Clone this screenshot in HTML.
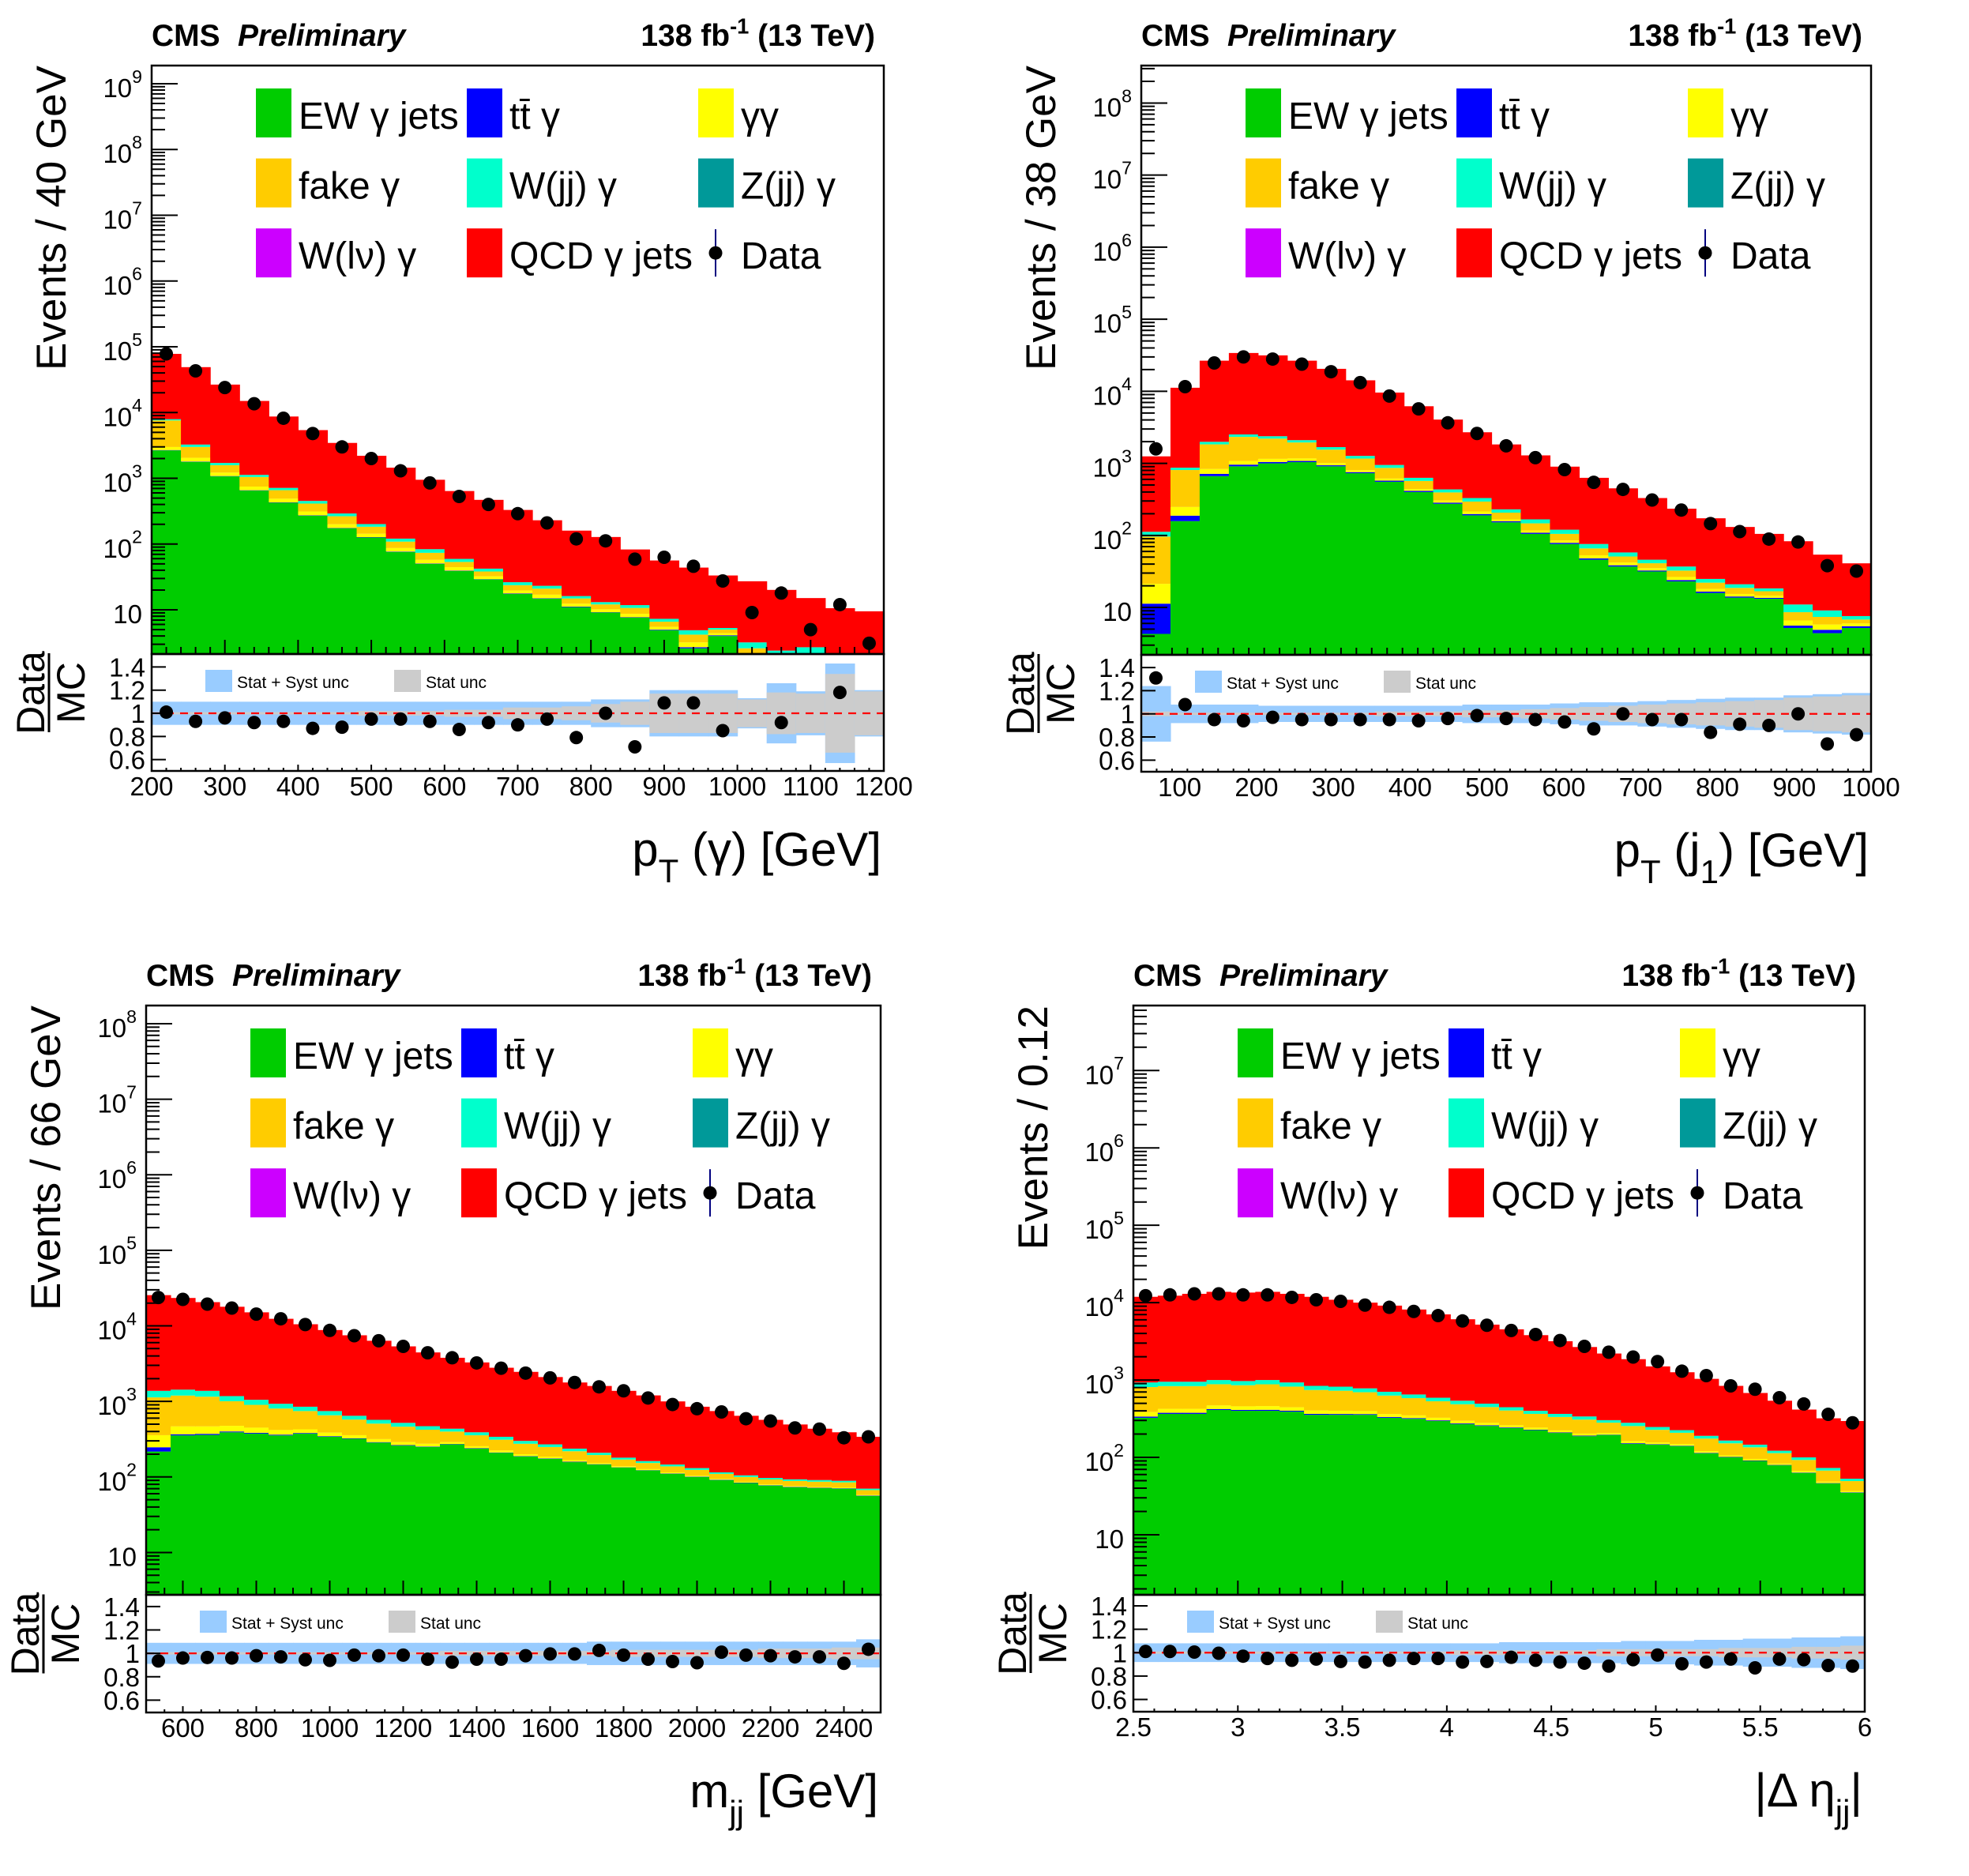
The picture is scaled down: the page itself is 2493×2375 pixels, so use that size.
<!DOCTYPE html>
<html><head><meta charset="utf-8">
<style>html,body{margin:0;padding:0;background:#fff}svg{display:block;font-family:"Liberation Sans",sans-serif}</style>
</head><body>
<svg id="chart" xmlns="http://www.w3.org/2000/svg" width="2493" height="2375" viewBox="0 0 2493 2375"></svg>
<script>
// ---------- pT(gamma) panel ----------
const ptgRange=[200,1200];
const ptgEW=[2660,1780,1070,650,425,270,173,126,76,50,39,29,17.4,14.8,11,9.1,7.6,4.9,2.6,4.0,1.5,0.5,1.0,0.5,0.5];
const ptgTT=[30,20,12,8,5,3,2,1.5,1,0.6,0.5,0.3,0.3,0.2,0.2,0.1,0.1,0.1,0.1,0.1,0.1,0.1,0.1,0.1,0.1];
const ptgYY=[300,250,140,90,60,40,25,16,10,7,5,3,2,2,1.2,1,1,0.5,0.5,0.3,0.4,0.3,0.2,0.2,0.2];
const ptgFake=[4600,950,360,300,170,100,65,40,22,16,9,6,4,4,2.5,1.9,2,1.1,1,0.6,0.6,0.5,0.4,0.4,0.4];
const ptgWjj=[340,260,130,80,55,40,27,18,12,10,6,4,2.6,2.2,1.3,1,1.1,0.7,0.7,0.3,0.6,1.0,1.0,0.4,0.4];
const ptgQCD=[70100,45760,24900,13880,7990,4950,3160,2000,1330,867,581,428,304,207,144,115,71,49,39,28,24,17.7,12.4,9,7.9];
const ptgData=[78000,43000,24000,13600,8200,4800,3000,2000,1300,850,530,400,290,210,120,112,59,63,46,27.5,9.1,18,5.0,12,3.1];
const ptgRatio=[1.01,0.93,0.96,0.92,0.93,0.87,0.88,0.95,0.95,0.93,0.86,0.92,0.90,0.95,0.79,1.0,0.71,1.09,1.09,0.85,null,0.92,null,1.18,null];
const ptgSyst=[0.1,0.1,0.1,0.1,0.1,0.1,0.1,0.1,0.1,0.1,0.1,0.1,0.1,0.1,0.1,0.12,0.12,0.2,0.2,0.2,0.13,0.26,0.19,0.43,0.2];
const ptgStat=[0.01,0.01,0.01,0.01,0.01,0.01,0.01,0.02,0.02,0.02,0.03,0.03,0.05,0.05,0.06,0.08,0.1,0.17,0.17,0.17,0.12,0.18,0.17,0.34,0.19];
// ---------- pT(j1) panel ----------
const pjRange=[50,1000];
const pjEW=[4.3,158,665,910,1000,1040,910,730,555,400,275,190,152,105,76,46,37,31.6,23,15.9,13.7,13.2,5.2,4.4,5.2];
const pjTT=[7,30,50,50,45,40,30,25,20,15,10,8,5,4,3,2,1.5,1,1,0.7,0.5,0.4,0.4,0.5,0.3];
const pjYY=[10,60,120,120,110,90,70,50,40,25,20,17,10,8,6,5,3.5,2.5,2.5,1.5,1.2,1,1,0.9,0.5];
const pjFake=[75,560,1000,1250,1050,780,540,360,250,130,90,80,40,30,20,13,9,6,6,4,3.3,2.2,2,1.6,0.8];
const pjWjj=[16,62,155,190,175,150,130,105,85,60,40,35,23,20,15,10,7,4.9,4.5,2.8,2.3,1.6,2.4,1.7,0.8];
const pjQCD=[1138,10330,24610,31480,29120,24500,18820,12930,8650,5570,3615,2370,1600,1123,780,554,392,284,198,148,110,86.6,72,45,33.4];
const pjData=[1590,11600,24700,30000,28000,23800,18700,13200,8600,5700,3650,2600,1750,1200,820,545,435,310,225,146,113,89,81,38,32];
const pjRatio=[1.31,1.08,0.95,0.94,0.97,0.95,0.95,0.95,0.95,0.94,0.96,0.985,0.96,0.95,0.93,0.87,1.0,0.95,0.95,0.84,0.91,0.90,1.0,0.74,0.82];
const pjSyst=[0.24,0.08,0.08,0.08,0.07,0.07,0.07,0.07,0.07,0.07,0.07,0.08,0.08,0.08,0.09,0.1,0.1,0.11,0.12,0.13,0.14,0.14,0.16,0.17,0.18];
const pjStat=[0.02,0.01,0.01,0.01,0.01,0.01,0.01,0.01,0.02,0.02,0.02,0.03,0.03,0.04,0.05,0.06,0.07,0.08,0.09,0.1,0.11,0.12,0.14,0.15,0.16];
// ---------- mjj panel ----------
const mjjRange=[500,2500];
const mjjEW=[217,355,360,390,375,355,375,340,320,285,260,250,270,237,209,187,174,157,146,133,122,110,100,91,83,77,73,71,70,56];
const mjjTT=[30,12,12,10,9,8,7,6,5,4,4,3,3,3,2,2,2,2,1.5,1,1,1,1,1,1,0.8,0.8,0.8,0.8,0.6];
const mjjYY=[110,100,95,75,65,55,45,40,32,28,25,22,16,15,13,11,10,8,6,5,4,4,3,2.4,2.2,2,2,2,2,1.4];
const mjjFake=[773,728,688,530,451,387,318,269,218,191,174,147,110,101,87,75,63,52,41.5,31,26,23,20,15.6,13.8,12.8,12.8,12.8,12,9];
const mjjWjj=[250,235,225,170,150,125,105,90,70,62,57,48,36,34,29,25,21,18,14,10,9,8,7,5,5,4.4,4.4,4.4,4.2,3];
const mjjQCD=[24120,21970,19220,16725,14050,11470,9650,8055,6855,5780,4830,3980,3345,2890,2450,2160,1830,1543,1391,1200,1038,854,719,630,540,473,402,344,301,270];
const mjjData=[23700,22400,19400,17200,14300,12400,10400,8700,7400,6350,5350,4400,3780,3230,2750,2370,2050,1780,1560,1380,1110,910,800,725,590,550,445,430,330,340];
const mjjRatio=[0.935,0.96,0.965,0.96,0.98,0.97,0.945,0.94,0.985,0.98,0.985,0.95,0.925,0.95,0.95,0.98,0.995,0.995,1.025,0.985,0.95,0.93,0.92,1.01,0.985,0.98,0.97,0.97,0.915,1.035];
const mjjSyst=[0.09,0.09,0.09,0.09,0.09,0.09,0.09,0.09,0.09,0.09,0.09,0.09,0.09,0.09,0.09,0.09,0.09,0.09,0.1,0.1,0.1,0.1,0.1,0.1,0.1,0.1,0.1,0.1,0.1,0.12];
const mjjStat=[0.01,0.01,0.01,0.01,0.01,0.01,0.01,0.01,0.01,0.01,0.01,0.01,0.02,0.02,0.02,0.02,0.02,0.02,0.02,0.03,0.03,0.03,0.03,0.03,0.03,0.04,0.04,0.04,0.05,0.05];
// ---------- |delta eta jj| panel ----------
const detaRange=[2.5,6];
const detaEW=[325,365,365,410,400,400,390,355,355,355,325,315,295,270,255,240,225,207,188,195,150,146,140,113,100,90,79,63,46,35];
const detaTT=[12,12,12,12,11,12,11,10,9,8,8,7,6,5,5,4,3.5,3,3,2,2.6,2,1.7,1.5,1.3,1.1,0.9,0.7,0.5,0.4];
const detaYY=[48,47,47,47,46,48,43,39,37,34,30,27,24,22,19,16,14,13,12,9,10,8,7,6,5,4.5,3.4,3,2.2,1.4];
const detaFake=[425,409,409,413,399,420,378,339,326,298,266,234,206,189,168,144,122.5,110,105,75,91.4,71,59.3,54.5,45.7,39.4,30.1,25.9,18.9,12.6];
const detaWjj=[120,117,117,118,114,120,108,97,93,85,76,67,59,54,48,41,35,32,30,22,26,20,17,15,13,11,8.6,7.4,5.4,3.6];
const detaQCD=[10970,11350,12050,12800,12530,12800,12070,11060,10080,9220,8445,7500,6460,5560,4705,4075,3400,2805,2332,1897,1580,1253,1035,845,675,534,418,315,247,242];
const detaData=[12300,12600,13000,13000,12600,12600,11700,10900,10400,9300,8700,7700,6800,5800,5100,4370,3870,3240,2720,2290,1980,1730,1300,1140,840,760,590,490,360,280];
const detaRatio=[1.01,1.01,1.005,0.995,0.97,0.95,0.935,0.945,0.925,0.92,0.935,0.95,0.95,0.92,0.925,0.96,0.935,0.92,0.91,0.885,0.94,0.98,0.905,0.92,0.945,0.87,0.945,0.94,0.89,0.885];
const detaSyst=[0.08,0.08,0.08,0.08,0.08,0.08,0.08,0.08,0.08,0.08,0.08,0.08,0.08,0.08,0.08,0.09,0.09,0.09,0.09,0.09,0.1,0.1,0.1,0.11,0.11,0.12,0.12,0.13,0.13,0.14];
const detaStat=[0.01,0.01,0.01,0.01,0.01,0.01,0.01,0.01,0.01,0.01,0.01,0.01,0.01,0.02,0.02,0.02,0.02,0.02,0.02,0.03,0.03,0.03,0.03,0.03,0.04,0.04,0.04,0.05,0.05,0.06];

const NS='http://www.w3.org/2000/svg';
const svg=document.getElementById('chart');
function mk(tag,attrs,parent){const e=document.createElementNS(NS,tag);for(const k in attrs)e.setAttribute(k,attrs[k]);(parent||svg).appendChild(e);return e;}
function txt(parent,x,y,parts,size,attrs){
  const t=mk('text',Object.assign({x:x,y:y,'font-size':size},attrs||{}),parent);
  let cur=0;
  parts.forEach(p=>{const s=mk('tspan',{},t);s.textContent=p[0];const sh=(p[1]||0)*size;s.setAttribute('dy',sh-cur);cur=sh;if(p[2]&&p[2]!==1)s.setAttribute('font-size',size*p[2]);});
  return t;
}
const COLORS={ew:'#00cc00',tt:'#0000ff',yy:'#ffff00',fake:'#ffcc00',wjj:'#00ffcc',zjj:'#009999',wlv:'#cc00ff',qcd:'#ff0000'};

const panels=[
 {key:'ptg',x0:192,x1:1119,yTop:83,yMid:828,yBot:976,lmin:0.328,lmax:9.276,rmin:0.502,rmax:1.512,range:ptgRange,decMax:9,xMaj:100,xMinStep:20,xLab0:200,
  yTitle:'Events / 40 GeV',xTitle:[['p',0,1],['T',0.35,0.7],[' (γ) [GeV]',-0.0001,1]],
  ew:ptgEW,tt:ptgTT,yy:ptgYY,fake:ptgFake,wjj:ptgWjj,qcd:ptgQCD,data:ptgData,ratio:ptgRatio,syst:ptgSyst,stat:ptgStat},
 {key:'ptj',x0:1445,x1:2369,yTop:83,yMid:829,yBot:977,lmin:0.343,lmax:8.52,rmin:0.5,rmax:1.51,range:pjRange,decMax:8,xMaj:100,xMinStep:20,xLab0:100,
  yTitle:'Events / 38 GeV',xTitle:[['p',0,1],['T',0.35,0.7],[' (j',0,1],['1',0.35,0.7],[') [GeV]',0,1]],
  ew:pjEW,tt:pjTT,yy:pjYY,fake:pjFake,wjj:pjWjj,qcd:pjQCD,data:pjData,ratio:pjRatio,syst:pjSyst,stat:pjStat},
 {key:'mjj',x0:185,x1:1115,yTop:1273,yMid:2019,yBot:2168,lmin:0.44,lmax:8.24,rmin:0.495,rmax:1.50,range:mjjRange,decMax:8,xMaj:200,xMinStep:50,xLab0:600,
  yTitle:'Events / 66 GeV',xTitle:[['m',0,1],['jj',0.35,0.7],[' [GeV]',0,1]],
  ew:mjjEW,tt:mjjTT,yy:mjjYY,fake:mjjFake,wjj:mjjWjj,qcd:mjjQCD,data:mjjData,ratio:mjjRatio,syst:mjjSyst,stat:mjjStat},
 {key:'deta',x0:1435,x1:2361,yTop:1273,yMid:2019,yBot:2167,lmin:0.224,lmax:7.84,rmin:0.495,rmax:1.495,range:detaRange,decMax:7,xMaj:0.5,xMinStep:0.1,xLab0:2.5,
  yTitle:'Events / 0.12',xTitle:[['|Δ η',0,1],['jj',0.35,0.7],['|',0,1]],
  ew:detaEW,tt:detaTT,yy:detaYY,fake:detaFake,wjj:detaWjj,qcd:detaQCD,data:detaData,ratio:detaRatio,syst:detaSyst,stat:detaStat}
];

panels.forEach(P=>{
  const g=mk('g',{});
  
  
  const n=P.data.length;
  const xs=v=>P.x0+(v-P.range[0])/(P.range[1]-P.range[0])*(P.x1-P.x0);
  const ys=v=>{if(v<=0)return P.yMid+50;return P.yMid-(Math.log10(v)-P.lmin)/(P.lmax-P.lmin)*(P.yMid-P.yTop);};
  const yr=v=>P.yBot-(v-P.rmin)/(P.rmax-P.rmin)*(P.yBot-P.yMid);
  const bw=(P.range[1]-P.range[0])/n;
  // clip
  const cp=mk('clipPath',{id:'clip-'+P.key},g);
  mk('rect',{x:P.x0,y:P.yTop,width:P.x1-P.x0,height:P.yMid-P.yTop},cp);
  const cpr=mk('clipPath',{id:'clipr-'+P.key},g);
  mk('rect',{x:P.x0,y:P.yMid,width:P.x1-P.x0,height:P.yBot-P.yMid},cpr);
  // stacked histogram
  const hg=mk('g',{'clip-path':'url(#clip-'+P.key+')'},g);
  
  
  const layers=[['ew',P.ew],['tt',P.tt],['yy',P.yy],['fake',P.fake],['wjj',P.wjj],['qcd',P.qcd]];
  for(let i=0;i<n;i++){
    let cum=0;
    const xa=xs(P.range[0]+i*bw), xb=xs(P.range[0]+(i+1)*bw);
    layers.forEach(L=>{
      const lo=cum, hi=cum+L[1][i]; cum=hi;
      const yLo=Math.min(P.yMid+50,ys(lo)), yHi=ys(hi);
      if(yLo-yHi>0){
        const r=mk('rect',{x:xa,y:yHi,width:xb-xa+0.6,height:yLo-yHi,fill:COLORS[L[0]]},hg);
        
        
      }
    });
  }
  // data points
  for(let i=0;i<n;i++){
    const v=P.data[i]; const y=ys(v);
    if(y>P.yMid)continue;
    const c=mk('circle',{cx:xs(P.range[0]+(i+0.5)*bw),cy:y,r:8.5,fill:'#000'},g);
    
    
  }
  // ratio bands
  const rg=mk('g',{'clip-path':'url(#clipr-'+P.key+')'},g);
  
  
  for(let i=0;i<n;i++){
    const xa=xs(P.range[0]+i*bw), xb=xs(P.range[0]+(i+1)*bw);
    const b=mk('rect',{x:xa,y:yr(1+P.syst[i]),width:xb-xa+0.6,height:yr(1-P.syst[i])-yr(1+P.syst[i]),fill:'#99ccff'},rg);
    
    
    const s=mk('rect',{x:xa,y:yr(1+P.stat[i]),width:xb-xa+0.6,height:yr(1-P.stat[i])-yr(1+P.stat[i]),fill:'#cccccc'},rg);
    
    
  }
  const dl=mk('line',{x1:P.x0,x2:P.x1,y1:yr(1),y2:yr(1),stroke:'#ff0000','stroke-width':2.2,'stroke-dasharray':'10,8'},rg);
  
  
  for(let i=0;i<n;i++){
    if(P.ratio[i]===null)continue;
    const c=mk('circle',{cx:xs(P.range[0]+(i+0.5)*bw),cy:yr(P.ratio[i]),r:8.5,fill:'#000'},rg);
    
    
  }
  // frames
  const f1=mk('rect',{x:P.x0,y:P.yTop,width:P.x1-P.x0,height:P.yMid-P.yTop,fill:'none',stroke:'#000','stroke-width':2.5},g);
  
  
  const f2=mk('rect',{x:P.x0,y:P.yMid,width:P.x1-P.x0,height:P.yBot-P.yMid,fill:'none',stroke:'#000','stroke-width':2.5},g);
  
  
  // y log ticks
  const tg=mk('g',{stroke:'#000','stroke-width':2},g);
  
  
  for(let d=0;d<=P.decMax;d++){
    for(let m=1;m<10;m++){
      const v=m*Math.pow(10,d); const y=ys(v);
      if(y<P.yTop||y>P.yMid)continue;
      mk('line',{x1:P.x0,x2:P.x0+(m===1?33:17),y1:y,y2:y},tg);
    }
  }
  for(let d=1;d<=P.decMax;d++){
    const y=ys(Math.pow(10,d));
    const parts=d===1?[['10',0,1]]:[['10',0,1],[String(d),-0.55,0.7]];
    const t=txt(g,P.x0-12,y+17,parts,33,{'text-anchor':'end'});
    
    
  }
  // ratio y ticks
  [0.6,0.8,1,1.2,1.4].forEach(v=>{
    mk('line',{x1:P.x0,x2:P.x0+18,y1:yr(v),y2:yr(v)},tg);
    const t=txt(g,P.x0-8,yr(v)+12,[[String(v),0,1]],33,{'text-anchor':'end'});
    
    
  });
  // x ticks
  const eps=1e-6;
  for(let v=P.range[0];v<=P.range[1]+eps;v+=P.xMinStep){
    const isMaj=Math.abs((v-P.xLab0)/P.xMaj-Math.round((v-P.xLab0)/P.xMaj))<1e-4;
    const x=xs(v);
    mk('line',{x1:x,x2:x,y1:P.yMid,y2:P.yMid-(isMaj?18:9)},tg);
    mk('line',{x1:x,x2:x,y1:P.yBot,y2:P.yBot-(isMaj?8:4)},tg);
  }
  for(let v=P.xLab0;v<=P.range[1]+eps;v+=P.xMaj){
    const lab=String(Math.round(v*10)/10);
    const t=txt(g,xs(v),P.yBot+31,[[lab,0,1]],33,{'text-anchor':'middle'});
    
    
  }
  // titles
  const c1=txt(g,P.x0,P.yTop-25,[['CMS',0,1]],39,{'font-weight':'bold'});
  
  
  const c2=txt(g,P.x0+109,P.yTop-25,[['Preliminary',0,1]],39,{'font-weight':'bold','font-style':'italic'});
  
  
  const lu=txt(g,P.x1-11,P.yTop-25,[['138 fb',0,1],['-1',-0.4,0.7],[' (13 TeV)',0,1]],39,{'font-weight':'bold','text-anchor':'end'});
  
  
  const yt=txt(g,0,0,[[P.yTitle,0,1]],53,{'text-anchor':'end',transform:'translate('+(P.x0-109)+','+P.yTop+') rotate(-90)'});
  
  
  const xt=txt(g,P.x1-3,P.yBot+120,P.xTitle,60,{'text-anchor':'end'});
  
  
  const rc=(P.yMid+P.yBot)/2-25;
  const rt1=txt(g,0,0,[['Data',0,1]],50,{'text-anchor':'middle',transform:'translate('+(P.x0-136)+','+rc+') rotate(-90)'});
  
  
  const rt2=txt(g,0,0,[['MC',0,1]],50,{'text-anchor':'middle',transform:'translate('+(P.x0-85)+','+rc+') rotate(-90)'});
  
  
  const fl=mk('line',{x1:P.x0-130,x2:P.x0-130,y1:rc-50,y2:rc+50,stroke:'#000','stroke-width':3},g);
  
  
  // legend
  const lg=mk('g',{},g);
  
  
  const cols=[132,399,692];
  const entries=[['ew','EW γ jets',0,0],['tt','tt̄ γ',1,0],['yy','γγ',2,0],['fake','fake γ',0,1],['wjj','W(jj) γ',1,1],['zjj','Z(jj) γ',2,1],['wlv','W(lν) γ',0,2],['qcd','QCD γ jets',1,2]];
  entries.forEach(E=>{
    const bx=P.x0+cols[E[2]], by=P.yTop+29+E[3]*88.6;
    const r=mk('rect',{x:bx,y:by,width:45,height:62,fill:COLORS[E[0]]},lg);
    
    
    const t=txt(lg,bx+54,by+51,[[E[1],0,1]],48,{});
    
    
  });
  const dx=P.x0+cols[2]+22, dy=P.yTop+29+2*88.6+31;
  const dv=mk('line',{x1:dx,x2:dx,y1:dy-30,y2:dy+30,stroke:'#000080','stroke-width':2},lg);
  
  
  const dc=mk('circle',{cx:dx,cy:dy,r:8.5,fill:'#000'},lg);
  
  
  const dt=txt(lg,P.x0+cols[2]+54,dy+20,[['Data',0,1]],48,{});
  
  
  // ratio legend
  const r1=mk('rect',{x:P.x0+68,y:P.yMid+20,width:34,height:28,fill:'#99ccff'},g);
  
  
  const rl1=txt(g,P.x0+108,P.yMid+43,[['Stat + Syst unc',0,1]],21,{});
  
  
  const r2=mk('rect',{x:P.x0+307,y:P.yMid+20,width:34,height:28,fill:'#cccccc'},g);
  
  
  const rl2=txt(g,P.x0+347,P.yMid+43,[['Stat unc',0,1]],21,{});
  
  
});
</script>
</body></html>
